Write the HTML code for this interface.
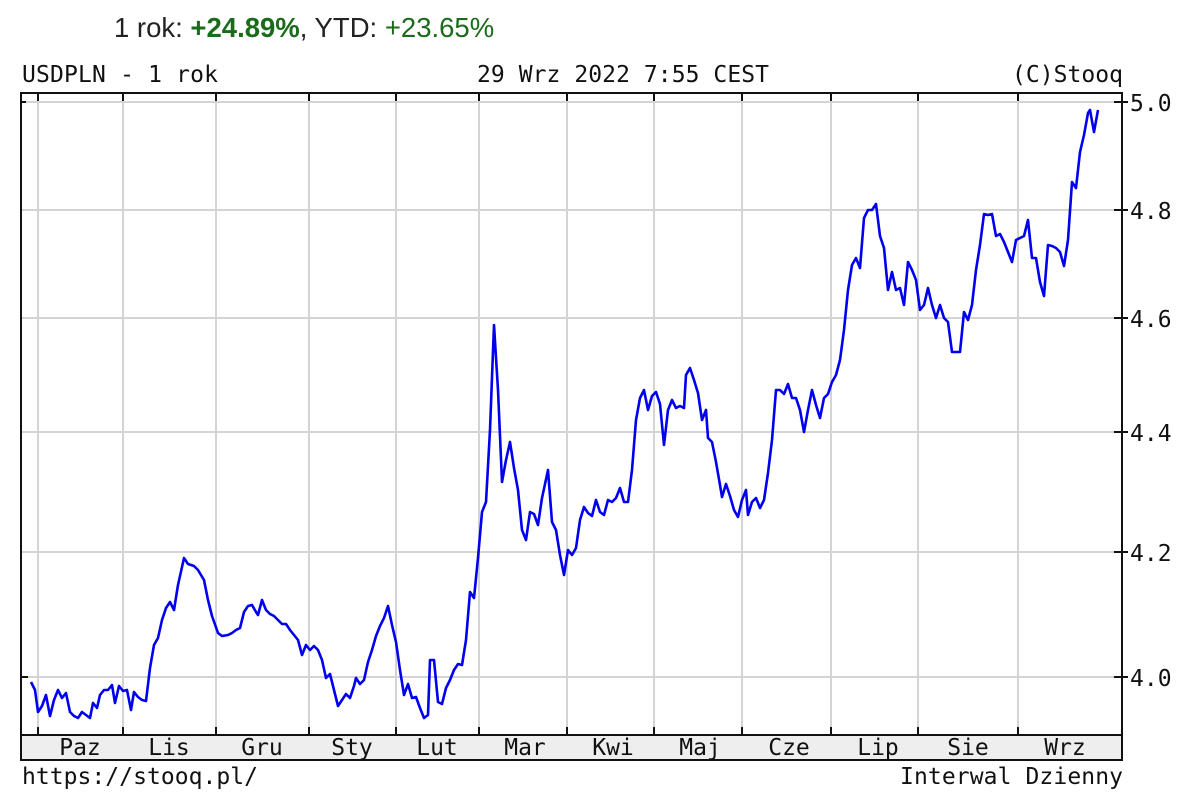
<!DOCTYPE html>
<html><head><meta charset="utf-8"><style>
body{margin:0;background:#fff;width:1200px;height:800px;overflow:hidden}
</style></head><body>
<svg width="1200" height="800" xmlns="http://www.w3.org/2000/svg">
<text x="114" y="37" font-family="Liberation Sans, sans-serif" font-size="27.5" fill="#222">1 rok: <tspan fill="#1a6b1a" font-weight="bold">+24.89%</tspan>, YTD: <tspan fill="#1a6b1a">+23.65%</tspan></text>
<g font-family="DejaVu Sans Mono, Liberation Mono, monospace" font-size="23" fill="#111">
<text x="22" y="82" textLength="196">USDPLN - 1 rok</text>
<text x="477" y="82" textLength="292">29 Wrz 2022 7:55 CEST</text>
<text x="1012" y="82" textLength="111">(C)Stooq</text>
<text x="22" y="784" textLength="236">https://stooq.pl/</text>
<text x="900" y="784" textLength="223">Interwal Dzienny</text>
</g>
<rect x="21" y="735" width="1101" height="25" fill="#eee"/>
<g stroke="#d4d4d4" stroke-width="2">
<line x1="21" y1="102" x2="1122" y2="102"/><line x1="21" y1="210" x2="1122" y2="210"/><line x1="21" y1="318" x2="1122" y2="318"/><line x1="21" y1="432" x2="1122" y2="432"/><line x1="21" y1="552" x2="1122" y2="552"/><line x1="21" y1="677" x2="1122" y2="677"/>
<line x1="38" y1="93" x2="38" y2="735"/><line x1="123" y1="93" x2="123" y2="735"/><line x1="216" y1="93" x2="216" y2="735"/><line x1="309" y1="93" x2="309" y2="735"/><line x1="396" y1="93" x2="396" y2="735"/><line x1="479" y1="93" x2="479" y2="735"/><line x1="567" y1="93" x2="567" y2="735"/><line x1="654" y1="93" x2="654" y2="735"/><line x1="742" y1="93" x2="742" y2="735"/><line x1="831" y1="93" x2="831" y2="735"/><line x1="918" y1="93" x2="918" y2="735"/><line x1="1018" y1="93" x2="1018" y2="735"/>
</g>
<g stroke="#111" stroke-width="2">
<line x1="38" y1="93" x2="38" y2="101"/><line x1="123" y1="93" x2="123" y2="101"/><line x1="216" y1="93" x2="216" y2="101"/><line x1="309" y1="93" x2="309" y2="101"/><line x1="396" y1="93" x2="396" y2="101"/><line x1="479" y1="93" x2="479" y2="101"/><line x1="567" y1="93" x2="567" y2="101"/><line x1="654" y1="93" x2="654" y2="101"/><line x1="742" y1="93" x2="742" y2="101"/><line x1="831" y1="93" x2="831" y2="101"/><line x1="918" y1="93" x2="918" y2="101"/><line x1="1018" y1="93" x2="1018" y2="101"/>
<line x1="38" y1="727" x2="38" y2="735"/><line x1="123" y1="727" x2="123" y2="735"/><line x1="216" y1="727" x2="216" y2="735"/><line x1="309" y1="727" x2="309" y2="735"/><line x1="396" y1="727" x2="396" y2="735"/><line x1="479" y1="727" x2="479" y2="735"/><line x1="567" y1="727" x2="567" y2="735"/><line x1="654" y1="727" x2="654" y2="735"/><line x1="742" y1="727" x2="742" y2="735"/><line x1="831" y1="727" x2="831" y2="735"/><line x1="918" y1="727" x2="918" y2="735"/><line x1="1018" y1="727" x2="1018" y2="735"/>
<line x1="1114" y1="102" x2="1128" y2="102"/><line x1="1114" y1="210" x2="1128" y2="210"/><line x1="1114" y1="318" x2="1128" y2="318"/><line x1="1114" y1="432" x2="1128" y2="432"/><line x1="1114" y1="552" x2="1128" y2="552"/><line x1="1114" y1="677" x2="1128" y2="677"/>
<line x1="21" y1="102" x2="26" y2="102"/><line x1="21" y1="677" x2="28" y2="677"/>
</g>
<rect x="21" y="93" width="1101" height="667" fill="none" stroke="#111" stroke-width="2"/>
<line x1="21" y1="735" x2="1122" y2="735" stroke="#111" stroke-width="2"/>
<g font-family="DejaVu Sans Mono, Liberation Mono, monospace" font-size="23" fill="#111">
<text x="1130" y="111">5.0</text><text x="1130" y="219">4.8</text><text x="1130" y="327">4.6</text><text x="1130" y="441">4.4</text><text x="1130" y="561">4.2</text><text x="1130" y="686">4.0</text>
<g text-anchor="middle"><text x="80" y="755">Paz</text><text x="169" y="755">Lis</text><text x="262" y="755">Gru</text><text x="352" y="755">Sty</text><text x="437" y="755">Lut</text><text x="525" y="755">Mar</text><text x="613" y="755">Kwi</text><text x="700" y="755">Maj</text><text x="789" y="755">Cze</text><text x="878" y="755">Lip</text><text x="968" y="755">Sie</text><text x="1065" y="755">Wrz</text></g>
</g>
<polyline fill="none" stroke="#0000ee" stroke-width="2.6" stroke-linejoin="round" points="31,682 35,690 38,712 42,706 46,695 50,716 54,700 58,690 62,698 66,693 70,712 74,716 78,718 82,712 86,715 90,718 93,703 97,708 100,695 104,690 108,690 112,685 115,703 119,686 123,691 127,690 131,710 134,692 138,697 142,700 146,701 150,668 154,645 158,638 162,620 166,608 170,602 174,610 178,585 184,558 188,564 194,566 198,570 204,580 208,600 212,616 218,633 222,636 228,635 232,633 236,630 240,628 244,612 248,606 252,605 256,612 258,615 262,600 266,610 270,614 274,616 278,620 282,624 286,624 290,630 294,635 298,640 302,655 306,645 310,650 314,646 318,650 322,660 326,678 330,674 334,690 338,706 342,700 346,694 350,698 354,686 356,678 360,684 364,680 368,662 372,650 376,636 380,626 384,618 388,606 392,625 396,642 400,670 404,695 408,684 412,698 416,697 420,708 424,718 428,715 430,660 434,660 438,702 442,704 446,688 450,680 454,670 458,664 462,665 466,640 470,592 474,598 478,558 482,512 486,502 490,430 494,325 498,390 502,482 506,460 510,442 514,468 518,490 522,530 526,540 530,512 534,514 538,525 542,498 548,470 552,522 556,530 560,555 564,575 568,550 572,555 576,548 580,520 584,507 588,513 592,516 596,500 600,512 604,515 608,500 612,502 616,498 620,488 624,502 628,502 632,470 636,420 640,398 644,390 648,410 652,396 656,392 660,404 664,445 668,410 672,400 676,408 680,406 684,408 686,375 690,368 694,380 698,393 702,420 706,410 708,438 712,442 716,462 720,485 722,497 726,484 730,496 734,510 738,517 742,500 746,490 748,515 752,502 756,498 760,508 764,500 768,473 772,440 776,390 780,390 784,394 788,384 792,398 796,398 800,410 804,432 808,410 812,390 816,405 820,418 824,398 828,394 832,382 836,375 840,360 844,330 848,290 852,265 856,258 860,268 864,218 868,210 872,210 876,204 880,236 884,248 888,290 892,272 896,290 900,288 904,305 908,262 912,270 916,280 920,310 924,305 928,288 932,305 936,318 940,305 944,318 948,322 952,352 956,352 960,352 964,312 968,320 972,305 976,270 980,245 984,214 988,215 992,214 996,236 1000,234 1004,242 1008,252 1012,262 1016,240 1020,238 1024,236 1028,220 1032,258 1036,258 1040,282 1044,296 1048,245 1052,246 1056,248 1060,252 1064,266 1068,240 1072,182 1076,188 1080,152 1084,135 1088,113 1090,110 1094,132 1098,110"/>
</svg>
</body></html>
